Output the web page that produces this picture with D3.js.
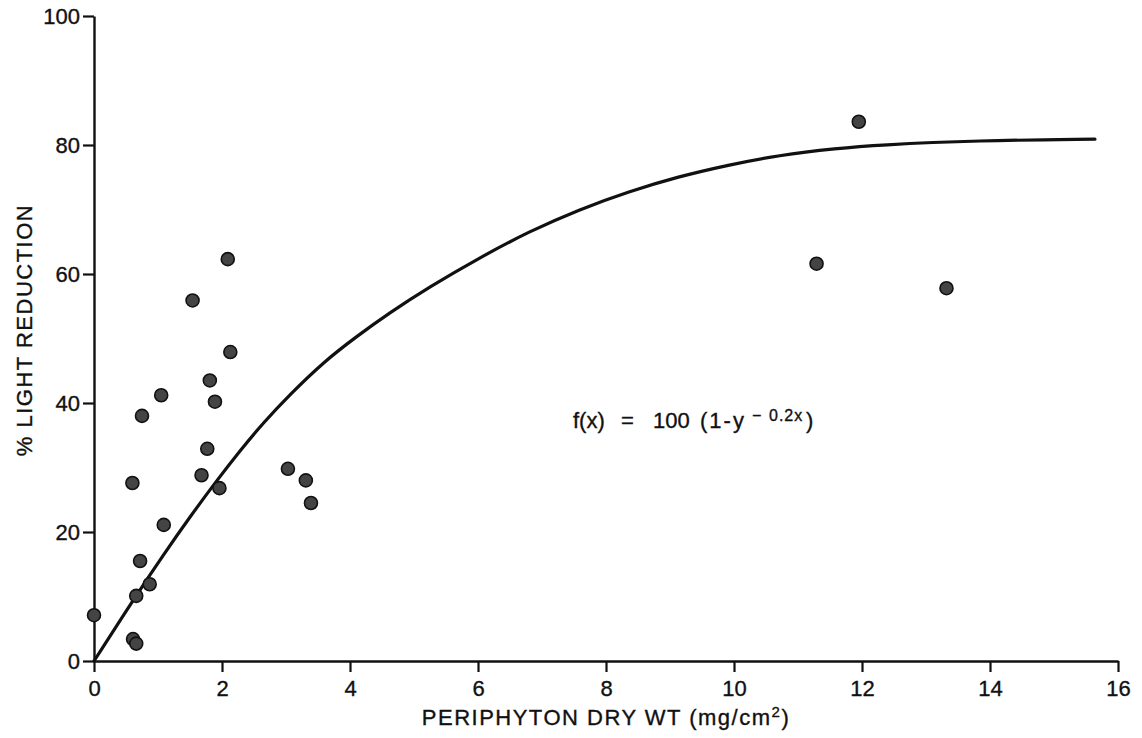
<!DOCTYPE html>
<html>
<head>
<meta charset="utf-8">
<script src="https://cdn.jsdelivr.net/npm/d3@7/dist/d3.min.js"></script>
<style>
  html, body { margin: 0; padding: 0; background: #fff; }
  svg { display: block; }
  text { font-family: "Liberation Sans", Arial, Helvetica, sans-serif; fill: #111; stroke: #111; stroke-width: 0.35px; }
</style>
</head>
<body>
<svg id="chart" width="1142" height="738"></svg>
<script>
// Observed samples: periphyton dry weight (mg/cm²) and % light reduction
const dryWeight = [2.09, 1.54, 2.13, 1.81, 1.05, 1.89, 0.75, 1.77, 1.68, 0.60, 1.96,
                   3.03, 3.31, 3.39, 1.09, 0.72, 0.87, 0.66, 0.00, 0.61, 0.66,
                   11.95, 11.29, 13.32];
const lightReduction = [62.3, 55.9, 47.9, 43.5, 41.2, 40.2, 38.0, 32.9, 28.8, 27.6, 26.8,
                        29.8, 28.0, 24.5, 21.1, 15.5, 11.9, 10.1, 7.1, 3.4, 2.7,
                        83.6, 61.6, 57.8];

// Fitted curve, traced at these x positions
const curveX = [0, 0.66, 1.08, 1.51, 1.92, 2.28, 2.65, 3.06, 3.58, 4.10, 4.62,
                5.24, 6.02, 6.80, 7.58, 8.36, 9.13, 9.91, 10.69, 11.62, 12.24, 13.8, 15.64];
const curveY = [0, 10.2, 16.4, 22.5, 28.0, 32.6, 37.0, 41.3, 46.3, 50.3, 54.0,
                58.0, 62.5, 66.6, 70.0, 72.8, 75.1, 76.9, 78.4, 79.5, 80.0, 80.7, 80.9];

const xTicks = [0, 2, 4, 6, 8, 10, 12, 14, 16];
const yTicks = [0, 20, 40, 60, 80, 100];

const margin = { left: 94, top: 16, right: 24, bottom: 77 };
const W = 1142, H = 738;
const iw = W - margin.left - margin.right;
const ih = H - margin.top - margin.bottom;

const svg = d3.select("#chart");
const g = svg.append("g").attr("transform", `translate(${margin.left},${margin.top})`);

const x = d3.scaleLinear().domain([0, 16]).range([0, iw]);
const y = d3.scaleLinear().domain([0, 100]).range([ih, 0]);

// Axes
const xAxis = d3.axisBottom(x).tickValues(xTicks).tickSize(11).tickSizeOuter(0).tickPadding(8);
const yAxis = d3.axisLeft(y).tickValues(yTicks).tickSize(11).tickSizeOuter(0).tickPadding(3);

const gx = g.append("g").attr("transform", `translate(0,${ih})`).call(xAxis);
const gy = g.append("g").call(yAxis);

[gx, gy].forEach(a => {
  a.select(".domain").attr("stroke", "#111").attr("stroke-width", 2.4);
  a.selectAll(".tick line").attr("stroke", "#111").attr("stroke-width", 2.2);
  a.selectAll(".tick text").style("font-size", "22px").attr("fill", "#111");
});

// Fitted curve
const line = d3.line()
  .x((d, i) => x(curveX[i]))
  .y((d, i) => y(curveY[i]))
  .curve(d3.curveBasis);

g.append("path")
  .datum(curveX)
  .attr("d", line)
  .attr("fill", "none")
  .attr("stroke", "#111")
  .attr("stroke-width", 3.2)
  .attr("stroke-linejoin", "round")
  .attr("stroke-linecap", "round");

// Sample points
g.selectAll("circle.pt")
  .data(dryWeight)
  .join("circle")
  .attr("class", "pt")
  .attr("cx", d => x(d))
  .attr("cy", (d, i) => y(lightReduction[i]))
  .attr("r", 6.5)
  .attr("fill", "#444")
  .attr("stroke", "#111")
  .attr("stroke-width", 1.6);

// Axis titles
svg.append("text")
  .attr("x", margin.left + x(8))
  .attr("y", 725)
  .attr("text-anchor", "middle")
  .style("font-size", "22px")
  .style("letter-spacing", "1.5px")
  .html('PERIPHYTON DRY WT (mg/cm<tspan dy="-8" font-size="15px">2</tspan><tspan dy="8">)</tspan>');

svg.append("text")
  .attr("transform", "translate(32,330) rotate(-90)")
  .attr("text-anchor", "middle")
  .style("font-size", "22px")
  .style("letter-spacing", "1.5px")
  .text("% LIGHT REDUCTION");

// Equation label
const eq = svg.append("text").attr("y", 428).style("font-size", "22px");
eq.append("tspan").attr("x", 573).text("f(x)");
eq.append("tspan").attr("x", 621).text("=");
eq.append("tspan").attr("x", 653).text("100");
eq.append("tspan").attr("x", 700).style("letter-spacing", "2px").text("(1-y");
eq.append("tspan").attr("x", 752).attr("dy", -7).style("font-size", "16px").text("\u2212");
eq.append("tspan").attr("x", 769).style("font-size", "16px").style("letter-spacing", "1px").text("0.2x");
eq.append("tspan").attr("x", 806).attr("dy", 7).text(")");
</script>
</body>
</html>
